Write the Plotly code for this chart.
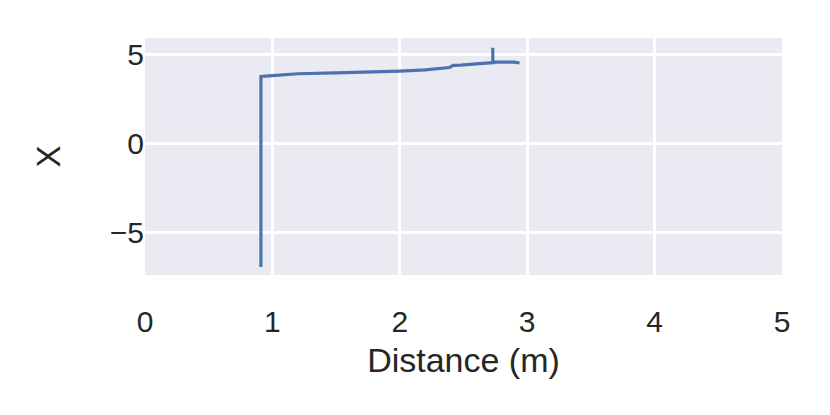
import plotly.graph_objects as go

distance = [0.91, 0.91, 0.91, 1.0, 1.2, 1.5, 1.8, 2.0, 2.2, 2.39, 2.42, 2.48, 2.6, 2.71, 2.73, 2.73, 2.73, 2.8, 2.9, 2.94]
x_values = [-6.9, 0.0, 3.75, 3.8, 3.9, 3.95, 4.0, 4.05, 4.12, 4.25, 4.37, 4.38, 4.45, 4.52, 4.52, 5.35, 4.55, 4.55, 4.55, 4.5]

x_ticks = [0, 1, 2, 3, 4, 5]
y_ticks = [-5, 0, 5]
y_tick_labels = ["\u22125", "0", "5"]

fig = go.Figure()
fig.add_trace(go.Scatter(x=distance, y=x_values, mode="lines",
                         line=dict(color="#4c72b0", width=3.2), showlegend=False))

font = "Liberation Sans, Arial, sans-serif"
fig.update_layout(
    width=830, height=415,
    margin=dict(l=137, r=56, t=30, b=148),
    paper_bgcolor="white", plot_bgcolor="#eaeaf2",
    font=dict(family=font, size=30, color="#262626"),
)
fig.update_xaxes(range=[0, 5], tickvals=x_ticks, showgrid=True, gridcolor="white", gridwidth=2.5,
                 zeroline=False, showline=False, ticks="outside", ticklen=20,
                 tickcolor="rgba(0,0,0,0)",
                 title=dict(text="Distance (m)", font=dict(size=34), standoff=11),
                 tickfont=dict(size=30))
fig.update_yaxes(range=[-7.35, 5.9], tickvals=y_ticks, ticktext=y_tick_labels, showgrid=True,
                 gridcolor="white", gridwidth=2.5, zeroline=False, showline=False, ticks="",
                 title=dict(text="X", font=dict(size=33), standoff=39),
                 tickfont=dict(size=30))

fig.write_html("out.html")
